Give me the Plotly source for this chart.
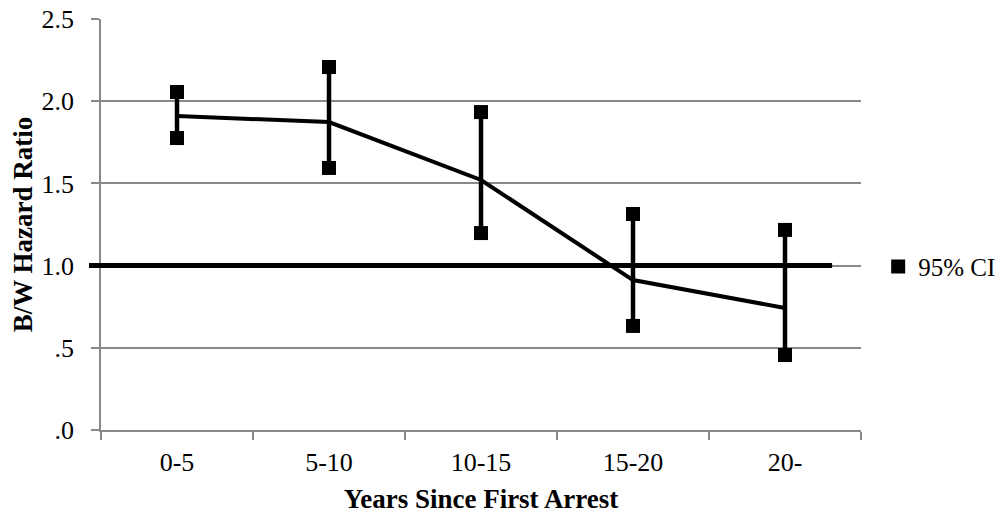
import plotly.graph_objects as go

categories = ["0-5", "5-10", "10-15", "15-20", "20-"]
estimate = [1.910, 1.873, 1.521, 0.912, 0.742]
ci_upper = [2.056, 2.208, 1.934, 1.314, 1.217]
ci_lower = [1.776, 1.594, 1.198, 0.633, 0.456]
reference_value = 1.0
y_ticks = [0, 0.5, 1.0, 1.5, 2.0, 2.5]
y_tick_labels = [".0", ".5", "1.0", "1.5", "2.0", "2.5"]

FONT = "Liberation Serif"
GRID = "#898989"

# vertical CI bars
bx, by = [], []
for c, lo, hi in zip(categories, ci_lower, ci_upper):
    bx += [c, c, None]
    by += [lo, hi, None]

fig = go.Figure()
fig.add_trace(go.Scatter(x=bx, y=by, mode="lines", line=dict(color="black", width=4.5),
                         showlegend=False, hoverinfo="skip"))
fig.add_trace(go.Scatter(x=categories, y=estimate, mode="lines",
                         line=dict(color="black", width=4), showlegend=False))
fig.add_trace(go.Scatter(x=categories + categories, y=ci_upper + ci_lower, mode="markers",
                         marker=dict(symbol="square", size=14, color="black"),
                         name="95% CI"))

fig.add_shape(type="line", xref="paper", yref="y", x0=-0.0158, x1=0.962,
              y0=reference_value, y1=reference_value,
              line=dict(color="black", width=5), layer="above")

fig.update_layout(
    width=1007, height=516,
    margin=dict(l=101, r=146, t=19, b=86, autoexpand=False),
    paper_bgcolor="white", plot_bgcolor="white",
    font=dict(family=FONT, size=26, color="black"),
    showlegend=True,
    legend=dict(x=1.0226, xanchor="left", y=0.397, yanchor="middle",
                font=dict(family=FONT, size=25, color="black"),
                bgcolor="rgba(0,0,0,0)", itemwidth=30),
    xaxis=dict(type="category", categoryorder="array", categoryarray=categories,
               range=[-0.5, 4.5], tickson="boundaries", ticks="outside", ticklen=8,
               tickcolor=GRID, tickwidth=1.5, showline=True, linecolor=GRID, linewidth=1.5,
               showgrid=False, zeroline=False, automargin=False, ticklabelstandoff=8,
               ticklabeloverflow="allow",
               title=dict(text="<b>Years Since First Arrest</b>", standoff=13,
                          font=dict(family=FONT, size=27)),
               tickfont=dict(family=FONT, size=26)),
    yaxis=dict(range=[0, 2.5001], tickvals=y_ticks, ticktext=y_tick_labels,
               ticks="outside", ticklen=8, tickcolor=GRID, tickwidth=1.5,
               showline=True, linecolor=GRID, linewidth=1.5, automargin=False,
               ticklabelstandoff=12, ticklabeloverflow="allow",
               showgrid=True, gridcolor=GRID, gridwidth=1.5, zeroline=False,
               title=dict(text="<b>B/W Hazard Ratio</b>", standoff=1,
                          font=dict(family=FONT, size=27)),
               tickfont=dict(family=FONT, size=26)),
)

fig.write_html("out.html", config={"displayModeBar": False},
               post_script="document.body.style.margin='0';document.body.style.overflow='hidden';")
